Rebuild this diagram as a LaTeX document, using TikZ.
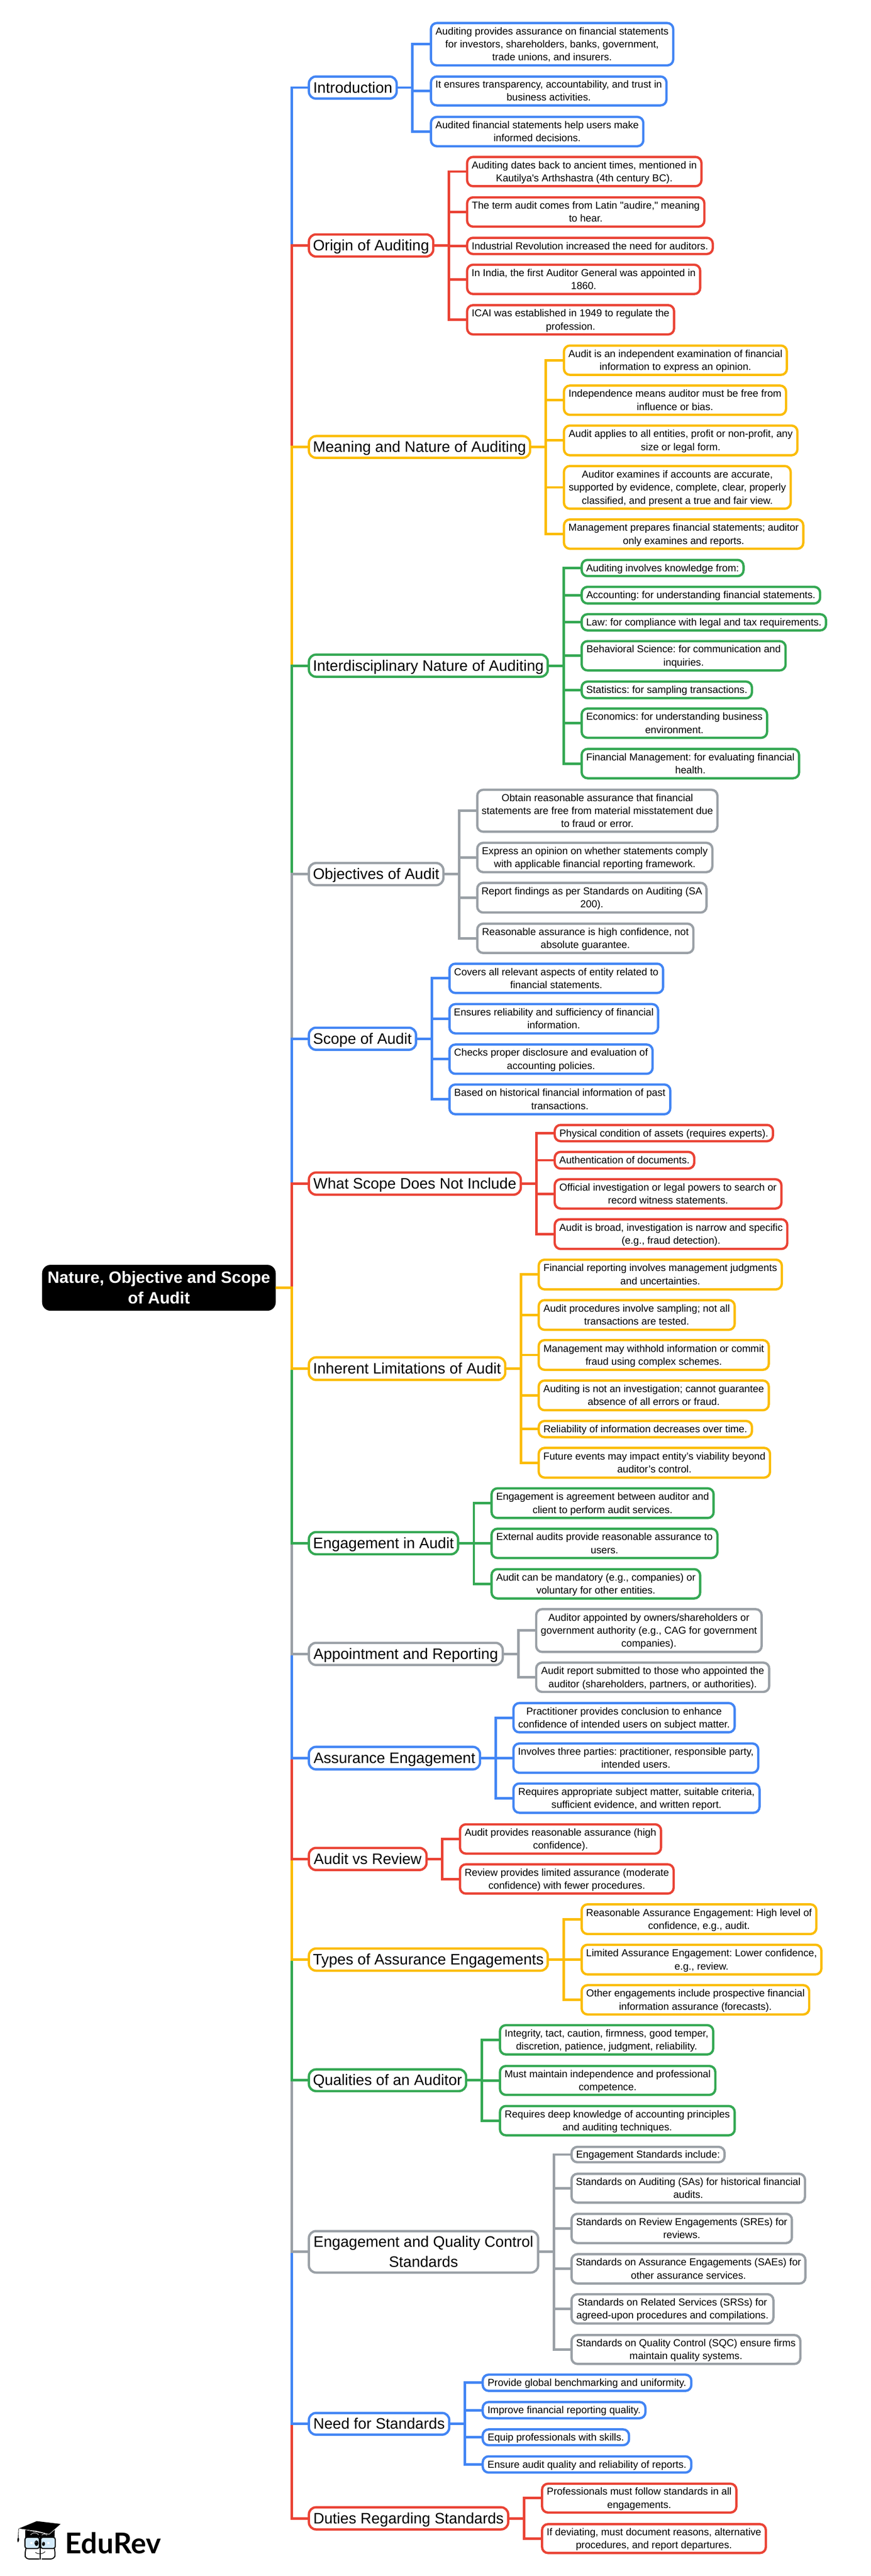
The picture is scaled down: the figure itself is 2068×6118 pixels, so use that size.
\documentclass[tikz,border=0pt]{standalone}
\usepackage{fontspec}
\setmainfont{Liberation Sans}[Ligatures=TeXOff]
\newfontfamily\logofont{Lato}[Ligatures=TeXOff]
\definecolor{tblue}{HTML}{4285F4}
\definecolor{tred}{HTML}{EA4335}
\definecolor{tyellow}{HTML}{FBBC04}
\definecolor{tgreen}{HTML}{34A853}
\definecolor{tgray}{HTML}{9AA0A6}
\definecolor{lens}{HTML}{D3EAFA}
\frenchspacing
\tikzset{
  boxed/.style={draw=#1,fill=white,line width=5.5pt,inner sep=0pt,outer sep=0pt,align=center},
  topic/.style={boxed=#1,rounded corners=17pt,font=\fontsize{36}{46.8}\selectfont},
  leaf/.style={boxed=#1,rounded corners=14pt,font=\fontsize{24}{31}\selectfont},
  roottopic/.style={fill=black,text=white,rounded corners=20pt,inner sep=0pt,outer sep=0pt,align=center,font=\fontsize{39}{49}\selectfont\bfseries},
  conn/.style={draw=#1,line width=6pt,line join=miter}
}
% invisible rule that gives a line the height and depth of its CSS line box
\newcommand{\linebox}{\rule[-.233\baselineskip]{0pt}{\baselineskip}}
% style, name, x1, x2, y1, y2, text (outer edges of the drawn box, in reference pixels)
\newcommand{\boxat}[7]{\node[#1,minimum width={#4-#3-5.5},minimum height={#6-#5-5.5}] (#2) at ({(#3+#4)/2},{(#5+#6)/2}) {\linebox#7\linebox};}
% colour, parent, list of children
\newcommand{\branch}[3]{\foreach \kid in {#3} {\draw[conn=#1] (#2.east) -- ++(37.5,0) |- (\kid.west);}}
\begin{document}
\begin{tikzpicture}[x=1pt,y=-1pt]
\useasboundingbox[fill=white] (0,0) rectangle (2068,6118);

\node[roottopic,minimum width=555,minimum height=109] (root) at (377.5,3058.5) {\linebox Nature, Objective and Scope\\of Audit\linebox};

% Introduction
\boxat{topic=tblue}{t1}{731}{945}{179}{237}{Introduction}
\boxat{leaf=tblue}{t1a}{1021}{1602}{52}{158}{Auditing provides assurance on financial statements\\for investors, shareholders, banks, government,\\trade unions, and insurers.}
\boxat{leaf=tblue}{t1b}{1021}{1586}{179}{253}{It ensures transparency, accountability, and trust in\\business activities.}
\boxat{leaf=tblue}{t1c}{1021}{1531}{275}{350}{Audited financial statements help users make\\informed decisions.}
% Origin
\boxat{topic=tred}{t2}{731}{1032}{554}{612}{Origin of Auditing}
\boxat{leaf=tred}{t2a}{1107}{1669}{370}{445}{Auditing dates back to ancient times, mentioned in\\Kautilya's Arthshastra (4th century BC).}
\boxat{leaf=tred}{t2b}{1107}{1676}{466}{541}{The term audit comes from Latin "audire," meaning\\to hear.}
\boxat{leaf=tred}{t2c}{1107}{1696}{562}{606}{Industrial Revolution increased the need for auditors.}
\boxat{leaf=tred}{t2d}{1107}{1666}{626}{701}{In India, the first Auditor General was appointed in\\1860.}
\boxat{leaf=tred}{t2e}{1107}{1604}{722}{797}{ICAI was established in 1949 to regulate the\\profession.}
% Meaning
\boxat{topic=tyellow}{t3}{731}{1262}{1033}{1090}{Meaning and Nature of Auditing}
\boxat{leaf=tyellow}{t3a}{1337}{1872}{818}{893}{Audit is an independent examination of financial\\information to express an opinion.}
\boxat{leaf=tyellow}{t3b}{1337}{1870}{913}{988}{Independence means auditor must be free from\\influence or bias.}
\boxat{leaf=tyellow}{t3c}{1337}{1897}{1008}{1084}{Audit applies to all entities, profit or non-profit, any\\size or legal form.}
\boxat{leaf=tyellow}{t3d}{1337}{1881}{1104}{1211}{Auditor examines if accounts are accurate,\\supported by evidence, complete, clear, properly\\classified, and present a true and fair view.}
\boxat{leaf=tyellow}{t3e}{1337}{1911}{1231}{1306}{Management prepares financial statements; auditor\\only examines and reports.}
% Interdisciplinary
\boxat{topic=tgreen}{t4}{731}{1304}{1552}{1610}{Interdisciplinary Nature of Auditing}
\boxat{leaf=tgreen}{t4a}{1379}{1769}{1327}{1371}{Auditing involves knowledge from:}
\boxat{leaf=tgreen}{t4b}{1379}{1951}{1391}{1436}{Accounting: for understanding financial statements.}
\boxat{leaf=tgreen}{t4c}{1379}{1965}{1456}{1500}{Law: for compliance with legal and tax requirements.}
\boxat{leaf=tgreen}{t4d}{1379}{1869}{1520}{1595}{Behavioral Science: for communication and\\inquiries.}
\boxat{leaf=tgreen}{t4e}{1379}{1789}{1616}{1661}{Statistics: for sampling transactions.}
\boxat{leaf=tgreen}{t4f}{1379}{1825}{1680}{1755}{Economics: for understanding business\\environment.}
\boxat{leaf=tgreen}{t4g}{1379}{1901}{1776}{1851}{Financial Management: for evaluating financial\\health.}
% Objectives
\boxat{topic=tgray}{t5}{731}{1056}{2047}{2105}{Objectives of Audit}
\boxat{leaf=tgray}{t5a}{1131}{1707}{1873}{1978}{Obtain reasonable assurance that financial\\statements are free from material misstatement due\\to fraud or error.}
\boxat{leaf=tgray}{t5b}{1131}{1695}{1999}{2074}{Express an opinion on whether statements comply\\with applicable financial reporting framework.}
\boxat{leaf=tgray}{t5c}{1131}{1681}{2094}{2170}{Report findings as per Standards on Auditing (SA\\200).}
\boxat{leaf=tgray}{t5d}{1131}{1650}{2191}{2266}{Reasonable assurance is high confidence, not\\absolute guarantee.}
% Scope
\boxat{topic=tblue}{t6}{731}{991}{2438}{2496}{Scope of Audit}
\boxat{leaf=tblue}{t6a}{1065}{1578}{2286}{2361}{Covers all relevant aspects of entity related to\\financial statements.}
\boxat{leaf=tblue}{t6b}{1065}{1566}{2382}{2457}{Ensures reliability and sufficiency of financial\\information.}
\boxat{leaf=tblue}{t6c}{1065}{1553}{2478}{2553}{Checks proper disclosure and evaluation of\\accounting policies.}
\boxat{leaf=tblue}{t6d}{1065}{1595}{2573}{2649}{Based on historical financial information of past\\transactions.}
% What Scope Does Not Include
\boxat{topic=tred}{t7}{731}{1240}{2782}{2840}{What Scope Does Not Include}
\boxat{leaf=tred}{t7a}{1315}{1839}{2669}{2713}{Physical condition of assets (requires experts).}
\boxat{leaf=tred}{t7b}{1315}{1652}{2733}{2778}{Authentication of documents.}
\boxat{leaf=tred}{t7c}{1315}{1859}{2798}{2873}{Official investigation or legal powers to search or\\record witness statements.}
\boxat{leaf=tred}{t7d}{1315}{1873}{2893}{2969}{Audit is broad, investigation is narrow and specific\\(e.g., fraud detection).}
% Inherent
\boxat{topic=tyellow}{t8}{731}{1203}{3221}{3280}{Inherent Limitations of Audit}
\boxat{leaf=tyellow}{t8a}{1277}{1860}{2989}{3065}{Financial reporting involves management judgments\\and uncertainties.}
\boxat{leaf=tyellow}{t8b}{1277}{1748}{3085}{3161}{Audit procedures involve sampling; not all\\transactions are tested.}
\boxat{leaf=tyellow}{t8c}{1277}{1829}{3180}{3256}{Management may withhold information or commit\\fraud using complex schemes.}
\boxat{leaf=tyellow}{t8d}{1277}{1829}{3276}{3352}{Auditing is not an investigation; cannot guarantee\\absence of all errors or fraud.}
\boxat{leaf=tyellow}{t8e}{1277}{1789}{3372}{3416}{Reliability of information decreases over time.}
\boxat{leaf=tyellow}{t8f}{1277}{1832}{3436}{3512}{Future events may impact entity’s viability beyond\\auditor’s control.}
% Engagement in Audit
\boxat{topic=tgreen}{t9}{731}{1091}{3636}{3694}{Engagement in Audit}
\boxat{leaf=tgreen}{t9a}{1165}{1698}{3532}{3608}{Engagement is agreement between auditor and\\client to perform audit services.}
\boxat{leaf=tgreen}{t9b}{1165}{1707}{3628}{3703}{External audits provide reasonable assurance to\\users.}
\boxat{leaf=tgreen}{t9c}{1165}{1666}{3724}{3799}{Audit can be mandatory (e.g., companies) or\\voluntary for other entities.}
% Appointment
\boxat{topic=tgray}{t10}{731}{1197}{3899}{3957}{Appointment and Reporting}
\boxat{leaf=tgray}{t10a}{1271}{1812}{3819}{3926}{Auditor appointed by owners/shareholders or\\government authority (e.g., CAG for government\\companies).}
\boxat{leaf=tgray}{t10b}{1271}{1830}{3946}{4021}{Audit report submitted to those who appointed the\\auditor (shareholders, partners, or authorities).}
% Assurance Engagement
\boxat{topic=tblue}{t11}{731}{1143}{4146}{4205}{Assurance Engagement}
\boxat{leaf=tblue}{t11a}{1217}{1748}{4042}{4117}{Practitioner provides conclusion to enhance\\confidence of intended users on subject matter.}
\boxat{leaf=tblue}{t11b}{1217}{1804}{4138}{4213}{Involves three parties: practitioner, responsible party,\\intended users.}
\boxat{leaf=tblue}{t11c}{1217}{1807}{4233}{4308}{Requires appropriate subject matter, suitable criteria,\\sufficient evidence, and written report.}
% Audit vs Review
\boxat{topic=tred}{t12}{731}{1016}{4386}{4444}{Audit vs Review}
\boxat{leaf=tred}{t12a}{1090}{1573}{4330}{4405}{Audit provides reasonable assurance (high\\confidence).}
\boxat{leaf=tred}{t12b}{1090}{1603}{4425}{4500}{Review provides limited assurance (moderate\\confidence) with fewer procedures.}
% Types
\boxat{topic=tyellow}{t13}{731}{1304}{4625}{4683}{Types of Assurance Engagements}
\boxat{leaf=tyellow}{t13a}{1379}{1942}{4520}{4596}{Reasonable Assurance Engagement: High level of\\confidence, e.g., audit.}
\boxat{leaf=tyellow}{t13b}{1379}{1954}{4616}{4692}{Limited Assurance Engagement: Lower confidence,\\e.g., review.}
\boxat{leaf=tyellow}{t13c}{1379}{1925}{4712}{4787}{Other engagements include prospective financial\\information assurance (forecasts).}
% Qualities
\boxat{topic=tgreen}{t14}{731}{1110}{4912}{4969}{Qualities of an Auditor}
\boxat{leaf=tgreen}{t14a}{1185}{1697}{4807}{4882}{Integrity, tact, caution, firmness, good temper,\\discretion, patience, judgment, reliability.}
\boxat{leaf=tgreen}{t14b}{1185}{1702}{4904}{4978}{Must maintain independence and professional\\competence.}
\boxat{leaf=tgreen}{t14c}{1185}{1748}{4999}{5074}{Requires deep knowledge of accounting principles\\and auditing techniques.}
% Engagement and Quality Control
\boxat{topic=tgray}{t15}{731}{1281}{5296}{5400}{Engagement and Quality Control\\Standards}
\boxat{leaf=tgray}{t15a}{1355}{1724}{5096}{5138}{Engagement Standards include:}
\boxat{leaf=tgray}{t15b}{1355}{1915}{5160}{5234}{Standards on Auditing (SAs) for historical financial\\audits.}
\boxat{leaf=tgray}{t15c}{1355}{1884}{5255}{5330}{Standards on Review Engagements (SREs) for\\reviews.}
\boxat{leaf=tgray}{t15d}{1355}{1916}{5351}{5426}{Standards on Assurance Engagements (SAEs) for\\other assurance services.}
\boxat{leaf=tgray}{t15e}{1355}{1840}{5446}{5521}{Standards on Related Services (SRSs) for\\agreed-upon procedures and compilations.}
\boxat{leaf=tgray}{t15f}{1355}{1904}{5543}{5617}{Standards on Quality Control (SQC) ensure firms\\maintain quality systems.}
% Need
\boxat{topic=tblue}{t16}{731}{1070}{5728}{5785}{Need for Standards}
\boxat{leaf=tblue}{t16a}{1144}{1645}{5637}{5681}{Provide global benchmarking and uniformity.}
\boxat{leaf=tblue}{t16b}{1144}{1536}{5702}{5746}{Improve financial reporting quality.}
\boxat{leaf=tblue}{t16c}{1144}{1497}{5767}{5810}{Equip professionals with skills.}
\boxat{leaf=tblue}{t16d}{1144}{1645}{5831}{5875}{Ensure audit quality and reliability of reports.}
% Duties
\boxat{topic=tred}{t17}{731}{1210}{5952}{6010}{Duties Regarding Standards}
\boxat{leaf=tred}{t17a}{1285}{1752}{5896}{5970}{Professionals must follow standards in all\\engagements.}
\boxat{leaf=tred}{t17b}{1285}{1822}{5992}{6066}{If deviating, must document reasons, alternative\\procedures, and report departures.}

% second-level connectors
\branch{tblue}{t1}{t1a,t1b,t1c}
\branch{tred}{t2}{t2a,t2b,t2c,t2d,t2e}
\branch{tyellow}{t3}{t3a,t3b,t3c,t3d,t3e}
\branch{tgreen}{t4}{t4a,t4b,t4c,t4d,t4e,t4f,t4g}
\branch{tgray}{t5}{t5a,t5b,t5c,t5d}
\branch{tblue}{t6}{t6a,t6b,t6c,t6d}
\branch{tred}{t7}{t7a,t7b,t7c,t7d}
\branch{tyellow}{t8}{t8a,t8b,t8c,t8d,t8e,t8f}
\branch{tgreen}{t9}{t9a,t9b,t9c}
\branch{tgray}{t10}{t10a,t10b}
\branch{tblue}{t11}{t11a,t11b,t11c}
\branch{tred}{t12}{t12a,t12b}
\branch{tyellow}{t13}{t13a,t13b,t13c}
\branch{tgreen}{t14}{t14a,t14b,t14c}
\branch{tgray}{t15}{t15a,t15b,t15c,t15d,t15e,t15f}
\branch{tblue}{t16}{t16a,t16b,t16c,t16d}
\branch{tred}{t17}{t17a,t17b}

% spine: farthest branches first, so that nearer ones lie on top
\foreach \col/\top in {tblue/t1,tred/t2,tyellow/t3,tgreen/t4,tgray/t5,tblue/t6,tred/t7,
                       tred/t17,tblue/t16,tgray/t15,tgreen/t14,tyellow/t13,tred/t12,tblue/t11,tgray/t10,tgreen/t9,tyellow/t8}
  {\draw[conn=\col] (root.east) -- ++(38,0) |- (\top.west);}

% EduRev logo
\begin{scope}[shift={(0,5900)},x=0.3333pt,y=-0.3333pt]
  \fill[black] (180,322) -- (180,378) -- (388,378) -- (391,322) -- (350,357) -- cycle;
  \fill[black] (133,316) -- (262,263) -- (432,283) -- (350,355) -- (260,332) -- cycle;
  \draw[white,line width=0.8pt] (133,316) -- (350,357) -- (391,322);
  \draw[white,line width=1pt] (218,360) .. controls (235,342) and (258,342) .. (276,360);
  \draw[white,line width=1pt] (298,362) .. controls (310,352) and (322,352) .. (335,363);
  \draw[black,line width=1pt] (133,316) -- (130,382);
  \fill[black] (130,378) .. controls (122,390) and (120,398) .. (128,415) .. controls (138,400) and (140,390) .. (130,378) -- cycle;
  \draw[black,fill=lens,line width=2.6pt,rounded corners=5pt] (178,378) rectangle (281,458);
  \draw[black,fill=lens,line width=2.6pt,rounded corners=5pt] (290,378) rectangle (394,458);
  \draw[black,line width=2.4pt,rounded corners=8pt] (280,532) -- (181,532) -- (178,495) -- (184,460);
  \draw[black,line width=2.4pt,rounded corners=8pt] (298,532) -- (388,532) -- (394,495) -- (388,460);
  \draw[black,line width=2.4pt] (287,378) -- (287,535);
  \draw[black,line width=1.2pt] (252,485) .. controls (275,502) and (300,500) .. (322,480);
  \fill[black] (260,420) ellipse [x radius=14,y radius=20];
  \fill[black] (310,425) ellipse [x radius=11,y radius=15];
  \fill[white] (256,412) circle [radius=3];
  \fill[white] (306,418) circle [radius=3];
  \fill[white] (218,411) rectangle (233,426);
  \fill[white] (339,411) rectangle (354,426);
\end{scope}
\node[anchor=base west,inner sep=0pt,font=\logofont\bfseries\fontsize{68}{68}\selectfont] (logotext) at (155,6065) {EduRev};
\end{tikzpicture}
\end{document}
